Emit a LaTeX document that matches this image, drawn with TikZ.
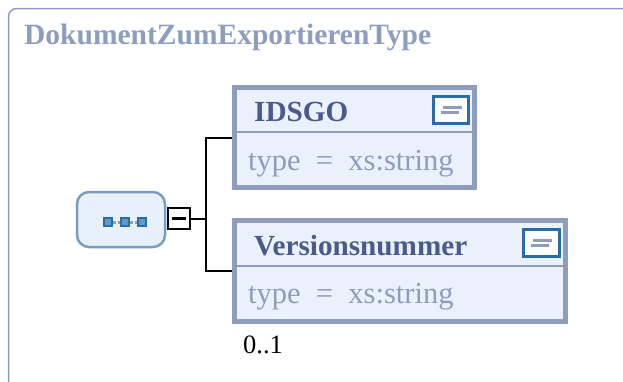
\documentclass[tikz,border=0pt]{standalone}
\usepackage{fontspec}
\setmainfont{Liberation Serif}
\usetikzlibrary{positioning,calc}
\definecolor{frameline}{RGB}{140,157,188}
\definecolor{elemline}{RGB}{141,157,187}
\definecolor{elemfill}{RGB}{234,241,251}
\definecolor{nametext}{RGB}{74,90,140}
\definecolor{typetext}{RGB}{141,157,190}
\definecolor{seqline}{RGB}{122,156,192}
\definecolor{seqfill}{RGB}{232,241,249}
\definecolor{iconline}{RGB}{44,108,166}
\definecolor{dotfill}{RGB}{58,128,184}
\tikzset{
  typeframe/.style = {draw=frameline, line width=1.5},
  typetitle/.style = {text=typetext, font=\fontsize{29.5}{32}\selectfont\bfseries,
                    inner sep=0pt, anchor=base west},
  elem/.style    = {draw=elemline, line width=5, fill=elemfill, inner sep=0pt},
  sepline/.style = {draw=elemline, line width=2.5},
  elemname/.style= {text=nametext, font=\fontsize{29.2}{32}\selectfont\bfseries,
                    inner sep=0pt, anchor=base west},
  elemtype/.style= {text=typetext, font=\fontsize{30.5}{33}\selectfont,
                    inner sep=0pt, anchor=base west},
  icon/.style    = {draw=iconline, line width=3, fill=white!94!elemfill,
                    minimum width=35, minimum height=27, inner sep=0pt},
  iconbar/.style = {draw=elemline, line width=3},
  seqbox/.style  = {draw=seqline, line width=2.5, fill=seqfill, rounded corners=12,
                    minimum width=88, minimum height=55, inner sep=0pt},
  seqdot/.style  = {draw=iconline, line width=1.5, fill=dotfill!80!white,
                    minimum size=8, inner sep=0pt},
  minusbox/.style= {draw=black, line width=2.3, fill=white,
                    minimum width=22, minimum height=21, inner sep=0pt},
  conn/.style    = {draw=black, line width=2},
  card/.style    = {font=\fontsize{26.5}{29}\selectfont, inner sep=0pt, anchor=base west},
}
\newcommand{\iconbars}[1]{%
  \draw[iconbar] ($(#1.center)+(-8,-2.5)$) -- ++(19,0);
  \draw[iconbar] ($(#1.center)+(-10,2.5)$) -- ++(18,0);}

\begin{document}
\begin{tikzpicture}[x=1pt,y=-1pt]
\useasboundingbox (0,0) rectangle (623,381);
\clip (0,0) rectangle (623,381);

% outer type frame
\draw[typeframe, rounded corners=8] (8.5,420) -- (8.5,8.5) -- (660,8.5);
\node[typetitle] (typename) at (24,44) {DokumentZumExportierenType};

% sequence compositor
\node[seqbox] (seq) at (121,219.5) {};
\node[seqdot] (d1) at (108,222) {};
\node[seqdot] (d2) at (125,222) {};
\node[seqdot] (d3) at (142,222) {};
\draw[draw=typetext, line width=3, dash pattern=on 3 off 2] (d1) -- (d2);
\draw[draw=typetext, line width=3, dash pattern=on 3 off 2] (d2) -- (d3);
\node[minusbox] (minus) at (179,218.5) {};
\draw[line width=3] ($(minus.center)+(-7,0)$) -- ++(14,0);

% element IDSGO
\node[elem, minimum width=240, minimum height=100] (idsgo) at (354.5,137.5) {};
\draw[sepline] (234.5,132) -- (474.5,132);
\node[elemname] (idsgo-name) at (254,121) {IDSGO};
\node[icon] (idsgo-icon) at (451,110) {};
\iconbars{idsgo-icon}
\node[elemtype] (idsgo-type) at (248,170) {type\ \ =\ \ xs:string};

% element Versionsnummer
\node[elem, minimum width=331, minimum height=101] (vers) at (400,271) {};
\draw[sepline] (234.5,266) -- (565.5,266);
\node[elemname] (vers-name) at (254,255) {Versionsnummer};
\node[icon, minimum width=36] (vers-icon) at (541,242.5) {};
\iconbars{vers-icon}
\node[elemtype] (vers-type) at (248,303) {type\ \ =\ \ xs:string};
\node[card] (vers-card) at (243,353) {0..1};

% connectors
\coordinate (fork) at ($(minus.east)+(14.5,0)$);
\draw[conn] (minus.east) -- (fork);
\draw[conn] (idsgo.west) -| (fork) |- (vers.west);
\end{tikzpicture}
\end{document}
